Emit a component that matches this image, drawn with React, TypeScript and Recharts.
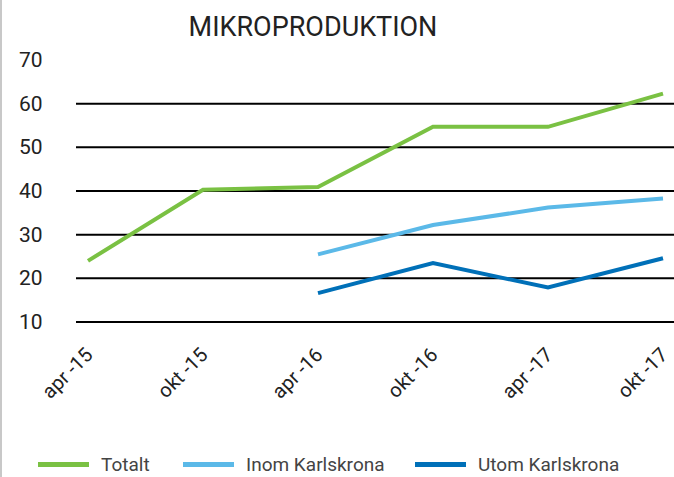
import { CartesianGrid, Legend, Line, LineChart, XAxis, YAxis } from "recharts";

const categories = ["apr -15", "okt -15", "apr -16", "okt -16", "apr -17", "okt -17"];
const totalt = [24, 40.3, 40.9, 54.7, 54.7, 62.3];
const inom = [null, null, 25.5, 32.2, 36.2, 38.3];
const utom = [null, null, 16.6, 23.5, 17.9, 24.6];
const yTicks = [10, 20, 30, 40, 50, 60, 70];
const gridValues = [10, 20, 30, 40, 50, 60];

const series = [
  { key: "totalt", name: "Totalt", color: "#7AC143" },
  { key: "inom", name: "Inom Karlskrona", color: "#5BB9E8" },
  { key: "utom", name: "Utom Karlskrona", color: "#0070B8" },
];

const data = categories.map((month, i) => ({
  month,
  totalt: totalt[i],
  inom: inom[i],
  utom: utom[i],
}));

const font = "Roboto, 'Noto Sans', sans-serif";

function YTick({ y, payload }: any) {
  return (
    <text x={19} y={y} dy={7} fontSize={21} fill="#222" fontFamily={font}>
      {payload.value}
    </text>
  );
}

function XTick({ x, y, payload }: any) {
  return (
    <g transform={`translate(${x + 6},${y + 26})`}>
      <text textAnchor="end" transform="rotate(-45)" fontSize={20} fill="#222" fontFamily={font}>
        {payload.value}
      </text>
    </g>
  );
}

function LegendContent() {
  return (
    <div style={{ position: "relative", height: 24, fontFamily: font, fontSize: 19, color: "#444" }}>
      {series.map((s, i) => {
        const left = [38, 183, 415][i];
        return (
          <div key={s.key} style={{ position: "absolute", left, top: 0, display: "flex", alignItems: "center" }}>
            <span style={{ display: "inline-block", width: 51, height: 5, background: s.color, marginRight: 12 }} />
            <span>{s.name}</span>
          </div>
        );
      })}
    </div>
  );
}

export default function App() {
  return (
    <div
      style={{
        position: "fixed",
        left: 0,
        top: 0,
        width: 674,
        height: 477,
        overflow: "hidden",
        background: "#fff",
        borderLeft: "2px solid #c8c8c8",
        boxSizing: "border-box",
      }}
    >
      <div
        style={{
          position: "absolute",
          left: 0,
          width: 622,
          top: 11,
          textAlign: "center",
          fontFamily: font,
          fontSize: 27,
          color: "#222",
          zIndex: 1,
        }}
      >
        MIKROPRODUKTION
      </div>
      <div style={{ position: "absolute", left: -2, top: 0 }}>
        <LineChart width={702} height={477} data={data} margin={{ top: 60, right: 0, bottom: 31, left: 0 }}>
          <CartesianGrid horizontal vertical={false} horizontalValues={gridValues} stroke="#000" strokeWidth={2} />
          <XAxis
            dataKey="month"
            axisLine={false}
            tickLine={false}
            interval={0}
            padding={{ left: 12, right: 39 }}
            tick={<XTick />}
            height={100}
          />
          <YAxis
            domain={[10, 70]}
            ticks={yTicks}
            interval={0}
            axisLine={false}
            tickLine={false}
            width={76}
            tick={<YTick />}
          />
          <Legend
            content={<LegendContent />}
            wrapperStyle={{ position: "absolute", left: 0, top: 453, width: 674 }}
          />
          {series.map((s) => (
            <Line
              key={s.key}
              type="linear"
              dataKey={s.key}
              name={s.name}
              stroke={s.color}
              strokeWidth={4}
              dot={false}
              activeDot={false}
              connectNulls={false}
              isAnimationActive={false}
            />
          ))}
        </LineChart>
      </div>
    </div>
  );
}
